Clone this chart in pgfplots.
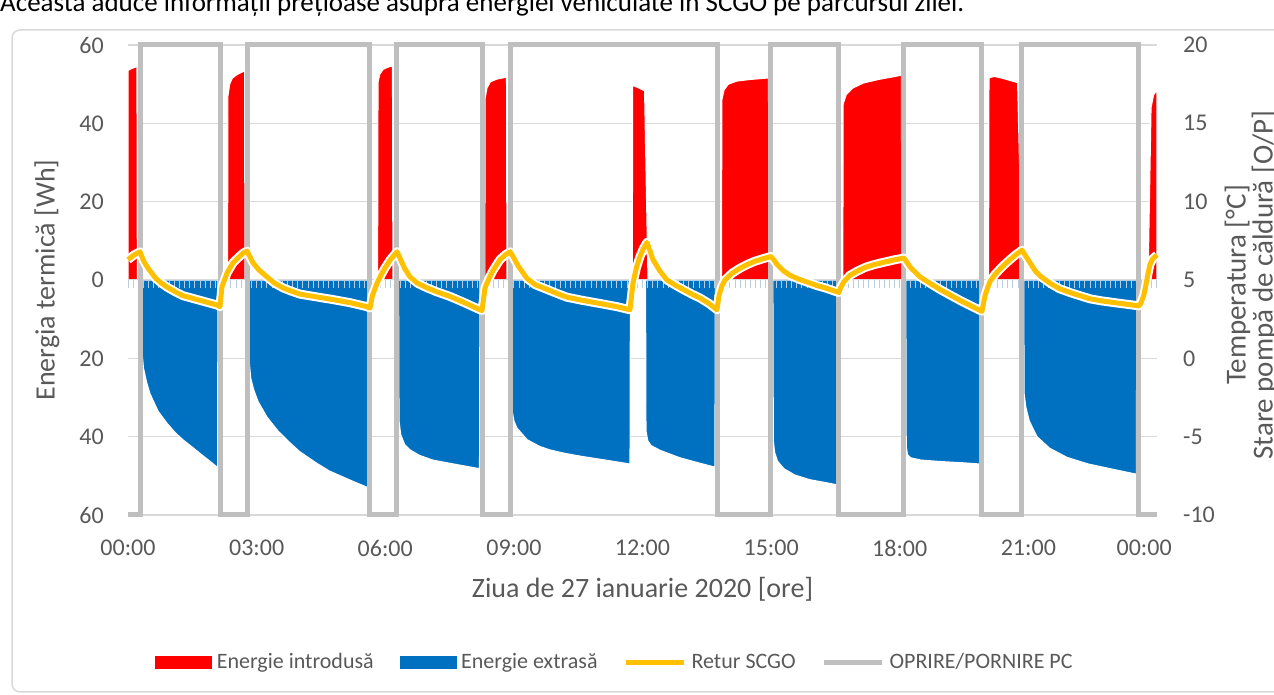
\documentclass[border=0pt]{standalone}
\usepackage{pgfplots}
\pgfplotsset{compat=1.18}
\usepackage{fontspec}
\setmainfont{Carlito}

\definecolor{energin}{HTML}{FF0000}
\definecolor{energout}{HTML}{0070C0}
\definecolor{retur}{HTML}{FFC000}
\definecolor{stare}{HTML}{BFBFBF}
\definecolor{gridc}{HTML}{D9D9D9}
\definecolor{txt}{HTML}{595959}
\definecolor{zeroticks}{HTML}{B9CCE0}

\newcommand\fsTick{\fontsize{24pt}{28pt}\selectfont}
\newcommand\fsTitle{\fontsize{28pt}{30pt}\selectfont}
\newcommand\fsLeg{\fontsize{22pt}{26pt}\selectfont}

\pgfplotsset{
  panel/.style={
    at={(128pt,180pt)}, anchor=south west,
    scale only axis, width=1029pt, height=470pt,
    xmin=0, xmax=24,
    /pgf/number format/assume math mode=true,
  },
}

\begin{document}
\begin{tikzpicture}
\useasboundingbox (0,0) rectangle (1274pt,695pt);
% chart frame
\draw[gridc, line width=1.5pt, rounded corners=8pt] (12pt,3pt) rectangle (1320pt,665pt);
\node[anchor=base west, inner sep=0pt, font=\fontsize{27pt}{30pt}\selectfont] at (0pt,683pt)
  {Aceasta aduce informații prețioase asupra energiei vehiculate în SCGO pe parcursul zilei.};

% ---------- thermal energy (left axis) ----------
\begin{axis}[panel,
  ymin=-60, ymax=60,
  axis line style={draw=none},
  major tick length=0pt,
  ytick={-60,-40,...,60},
  yticklabels={60,40,20,0,20,40,60},
  ymajorgrids, major grid style={gridc, line width=1.5pt},
  xtick={0,3,6,9,12,15,18,21,23.7},
  xticklabels={00:00,03:00,06:00,09:00,12:00,15:00,18:00,21:00,00:00},
  tick label style={font=\fsTick, text=txt, inner sep=0pt},
  yticklabel style={xshift=-24pt},
  xticklabel style={yshift=-25pt},
  xlabel={Ziua de 27 ianuarie 2020 [ore]},
  xlabel style={at={(axis description cs:0.5,0)}, anchor=base, yshift=-83pt,
    inner sep=0pt, font=\fsTitle, text=txt},
]
% Energie introdusa
\addplot[draw=white, line width=1.2pt, fill=energin, forget plot] coordinates {
 (0,53.5) (0.08,54) (0.16,54.3) (0.21,54.6) (0.22,0)
 (2.32,0) (2.33,47) (2.37,50) (2.43,51.5) (2.52,52.3) (2.62,52.9) (2.72,53.4) (2.73,0)
 (5.82,0) (5.83,50.5) (5.87,52.5) (5.95,53.8) (6.05,54.3) (6.17,54.7) (6.18,0)
 (8.32,0) (8.33,46.5) (8.37,49) (8.45,50.6) (8.6,51.3) (8.83,51.8) (8.84,0)
 (11.76,0) (11.77,49.7) (11.86,49.3) (11.96,48.8) (12.05,48.3) (12.13,0)
 (13.84,0) (13.85,46) (13.9,48.5) (14.0,50) (14.2,50.8) (14.5,51.2) (14.94,51.6) (14.95,0)
 (16.67,0) (16.68,45) (16.75,47.3) (16.9,49) (17.15,50.3) (17.5,51.2) (17.8,51.8) (18.04,52.3) (18.05,0)
 (20.07,0) (20.08,51.6) (20.2,52) (20.4,51.5) (20.75,50.4) (20.86,0)
 (23.79,0) (23.86,44) (23.92,47.3) (24,48.5)
} \closedcycle;
% Energie extrasa
\addplot[draw=white, line width=1.2pt, fill=energout, forget plot] coordinates {
 (0,0) (0.32,0) (0.33,-19) (0.36,-22.5) (0.43,-26) (0.51,-29) (0.7,-33.5) (0.91,-36.6)
 (1.1,-39) (1.28,-40.8) (1.5,-42.7) (1.68,-44.3) (1.9,-46.2) (2.09,-47.9) (2.1,0)
 (2.81,0) (2.82,-20) (2.86,-25) (2.93,-28) (3.03,-31) (3.24,-35) (3.5,-38.6) (3.78,-41.6)
 (4.0,-43.8) (4.4,-46.8) (4.7,-48.8) (5.2,-51.2) (5.59,-53) (5.6,0)
 (6.31,0) (6.32,-36) (6.36,-39.5) (6.45,-42) (6.58,-43.4) (6.8,-44.8) (7.11,-46) (7.6,-47) (8.2,-48.2) (8.21,0)
 (8.95,0) (8.96,-33.5) (9.0,-36) (9.07,-37.8) (9.31,-40.8) (9.6,-42.5) (9.84,-43.4) (10.2,-44.3)
 (10.61,-45.1) (11.2,-46.1) (11.71,-47) (11.72,0)
 (12.07,0) (12.08,-38.5) (12.12,-41) (12.2,-42.3) (12.41,-43.5) (12.87,-45.4) (13.34,-46.8) (13.69,-47.8) (13.7,0)
 (15.04,0) (15.05,-41) (15.08,-44) (15.15,-46.3) (15.3,-48.2) (15.55,-49.8) (15.9,-51) (16.3,-51.8) (16.53,-52.3) (16.54,0)
 (18.14,0) (18.15,-42.5) (18.18,-44.6) (18.25,-45.4) (18.5,-46) (19.0,-46.4) (19.5,-46.7) (19.87,-47) (19.88,0)
 (20.89,0) (20.9,-29) (20.94,-32.5) (21.02,-36) (21.2,-40) (21.5,-43) (21.9,-45.3) (22.4,-47)
 (23.0,-48.4) (23.52,-49.6) (23.53,0) (24,0)
} \closedcycle;
\end{axis}

% ---------- category axis crossing at zero ----------
\begin{axis}[panel,
  ymin=-60, ymax=60,
  axis y line=none, axis x line=middle,
  x axis line style={draw=gridc, line width=1pt, -},
  xtick={0,0.12,...,24}, xticklabels={},
  major tick length=8pt, tick align=outside,
  xtick style={draw=zeroticks, line width=1pt},
]
\end{axis}

% ---------- temperature / pump state (right axis) ----------
\begin{axis}[panel,
  ymin=-10, ymax=20,
  axis x line=none, axis y line*=right,
  y axis line style={draw=none},
  major tick length=0pt,
  ytick={-10,-5,...,20},
  yticklabels={-10,-5,0,5,10,15,20},
  yticklabel style={font=\fsTick, text=txt, inner sep=0pt, xshift=26pt},
  clip=false,
  legend columns=4,
  legend cell align=left,
  legend style={at={(axis description cs:0.4733,-0.3128)}, anchor=center,
    draw=none, fill=none, font=\fsLeg, text=txt,
    nodes={inner sep=2pt},
    /tikz/every odd column/.append style={column sep=3pt},
    /tikz/every even column/.append style={column sep=24pt}},
]
% OPRIRE/PORNIRE PC
\addplot[stare, line width=5pt, forget plot] coordinates {
 (0,-10) (0.28,-10) (0.28,20) (2.146,20) (2.146,-10) (2.776,-10) (2.776,20)
 (5.644,20) (5.644,-10) (6.274,-10) (6.274,20) (8.257,20) (8.257,-10) (8.91,-10) (8.91,20)
 (13.738,20) (13.738,-10) (14.997,-10) (14.997,20) (16.583,20) (16.583,-10) (18.099,-10) (18.099,20)
 (19.918,20) (19.918,-10) (20.851,-10) (20.851,20) (23.58,20) (23.58,-10) (24,-10)
};
% Retur SCGO (white halo, then the line)
\pgfplotstableread{
t T
0 6.3
0.14 6.6
0.28 6.8
0.35 6.3
0.42 5.95
0.51 5.6
0.65 5.1
0.78 4.8
0.91 4.55
1.1 4.25
1.28 4.0
1.48 3.85
1.68 3.7
1.88 3.55
2.08 3.4
2.146 3.3
2.19 4.55
2.31 5.45
2.45 6.1
2.58 6.45
2.68 6.7
2.776 6.85
2.85 6.45
2.915 6.1
3.05 5.65
3.24 5.2
3.42 4.8
3.615 4.5
3.8 4.3
4.01 4.1
4.4 3.92
4.78 3.75
5.18 3.55
5.57 3.3
5.644 3.2
5.7 4.0
5.81 4.8
5.9 5.3
5.99 5.75
6.12 6.3
6.274 6.8
6.31 6.6
6.344 6.4
6.45 5.75
6.577 5.2
6.75 4.8
6.974 4.5
7.2 4.25
7.51 3.95
7.85 3.55
8.21 3.1
8.257 3.05
8.327 4.5
8.42 5.1
8.513 5.6
8.676 6.3
8.8 6.6
8.91 6.8
8.98 6.5
9.1 5.9
9.306 5.1
9.5 4.7
9.773 4.4
10.0 4.15
10.239 3.9
10.6 3.7
11.009 3.5
11.4 3.3
11.708 3.1
11.778 4.8
11.86 5.8
11.942 6.5
12.02 7.0
12.105 7.4
12.17 6.9
12.245 6.3
12.4 5.6
12.571 5.0
12.75 4.7
12.945 4.4
13.15 4.1
13.341 3.85
13.55 3.5
13.738 3.1
13.784 4.0
13.85 4.6
13.924 5.0
14.1 5.45
14.274 5.75
14.45 6.0
14.624 6.2
14.8 6.35
14.997 6.5
15.06 6.3
15.137 6.0
15.28 5.6
15.44 5.3
15.65 5.05
15.86 4.85
16.06 4.65
16.257 4.5
16.42 4.35
16.583 4.2
16.62 4.5
16.7 4.9
16.84 5.3
17.0 5.55
17.19 5.8
17.4 5.98
17.656 6.15
17.9 6.3
18.099 6.4
18.15 6.2
18.25 5.8
18.472 5.2
18.7 4.8
18.939 4.4
19.17 4.05
19.405 3.7
19.66 3.35
19.918 3.0
19.96 3.6
19.988 4.0
20.05 4.5
20.105 4.9
20.22 5.35
20.338 5.7
20.45 6.0
20.571 6.3
20.7 6.6
20.851 6.9
20.9 6.7
20.945 6.5
21.05 6.05
21.155 5.6
21.3 5.2
21.504 4.8
21.72 4.45
21.971 4.2
22.2 4.0
22.437 3.8
22.7 3.67
23.02 3.55
23.3 3.45
23.58 3.35
23.62 3.5
23.69 4.0
23.743 4.7
23.79 5.4
23.837 6.0
23.9 6.35
24 6.6
}\returtable
\addplot[white, line width=9pt, line join=round, forget plot] table[x=t, y=T] {\returtable};
\addplot[retur, line width=5pt, line join=round, forget plot] table[x=t, y=T] {\returtable};

\addlegendimage{legend image code/.code={\fill[energin] (0pt,-6pt) rectangle (56pt,6pt);}}
\addlegendentry{Energie introdusă}
\addlegendimage{legend image code/.code={\fill[energout] (0pt,-6pt) rectangle (56pt,6pt);}}
\addlegendentry{Energie extrasă}
\addlegendimage{legend image code/.code={\draw[retur, line width=5pt] (0pt,0pt) -- (58pt,0pt);}}
\addlegendentry{Retur SCGO}
\addlegendimage{legend image code/.code={\draw[stare, line width=5pt] (0pt,0pt) -- (58pt,0pt);}}
\addlegendentry{OPRIRE/PORNIRE PC}
\end{axis}

\node[rotate=90, font=\fsTitle, text=txt, inner sep=0pt] at (47pt,415pt) {Energia termică [Wh]};
\node[rotate=90, font=\fontsize{29pt}{27pt}\selectfont, text=txt, align=center, inner sep=0pt]
  at (1251pt,410pt) {Temperatura [°C]\\Stare pompă de căldură [O/P]};
\end{tikzpicture}
\end{document}
